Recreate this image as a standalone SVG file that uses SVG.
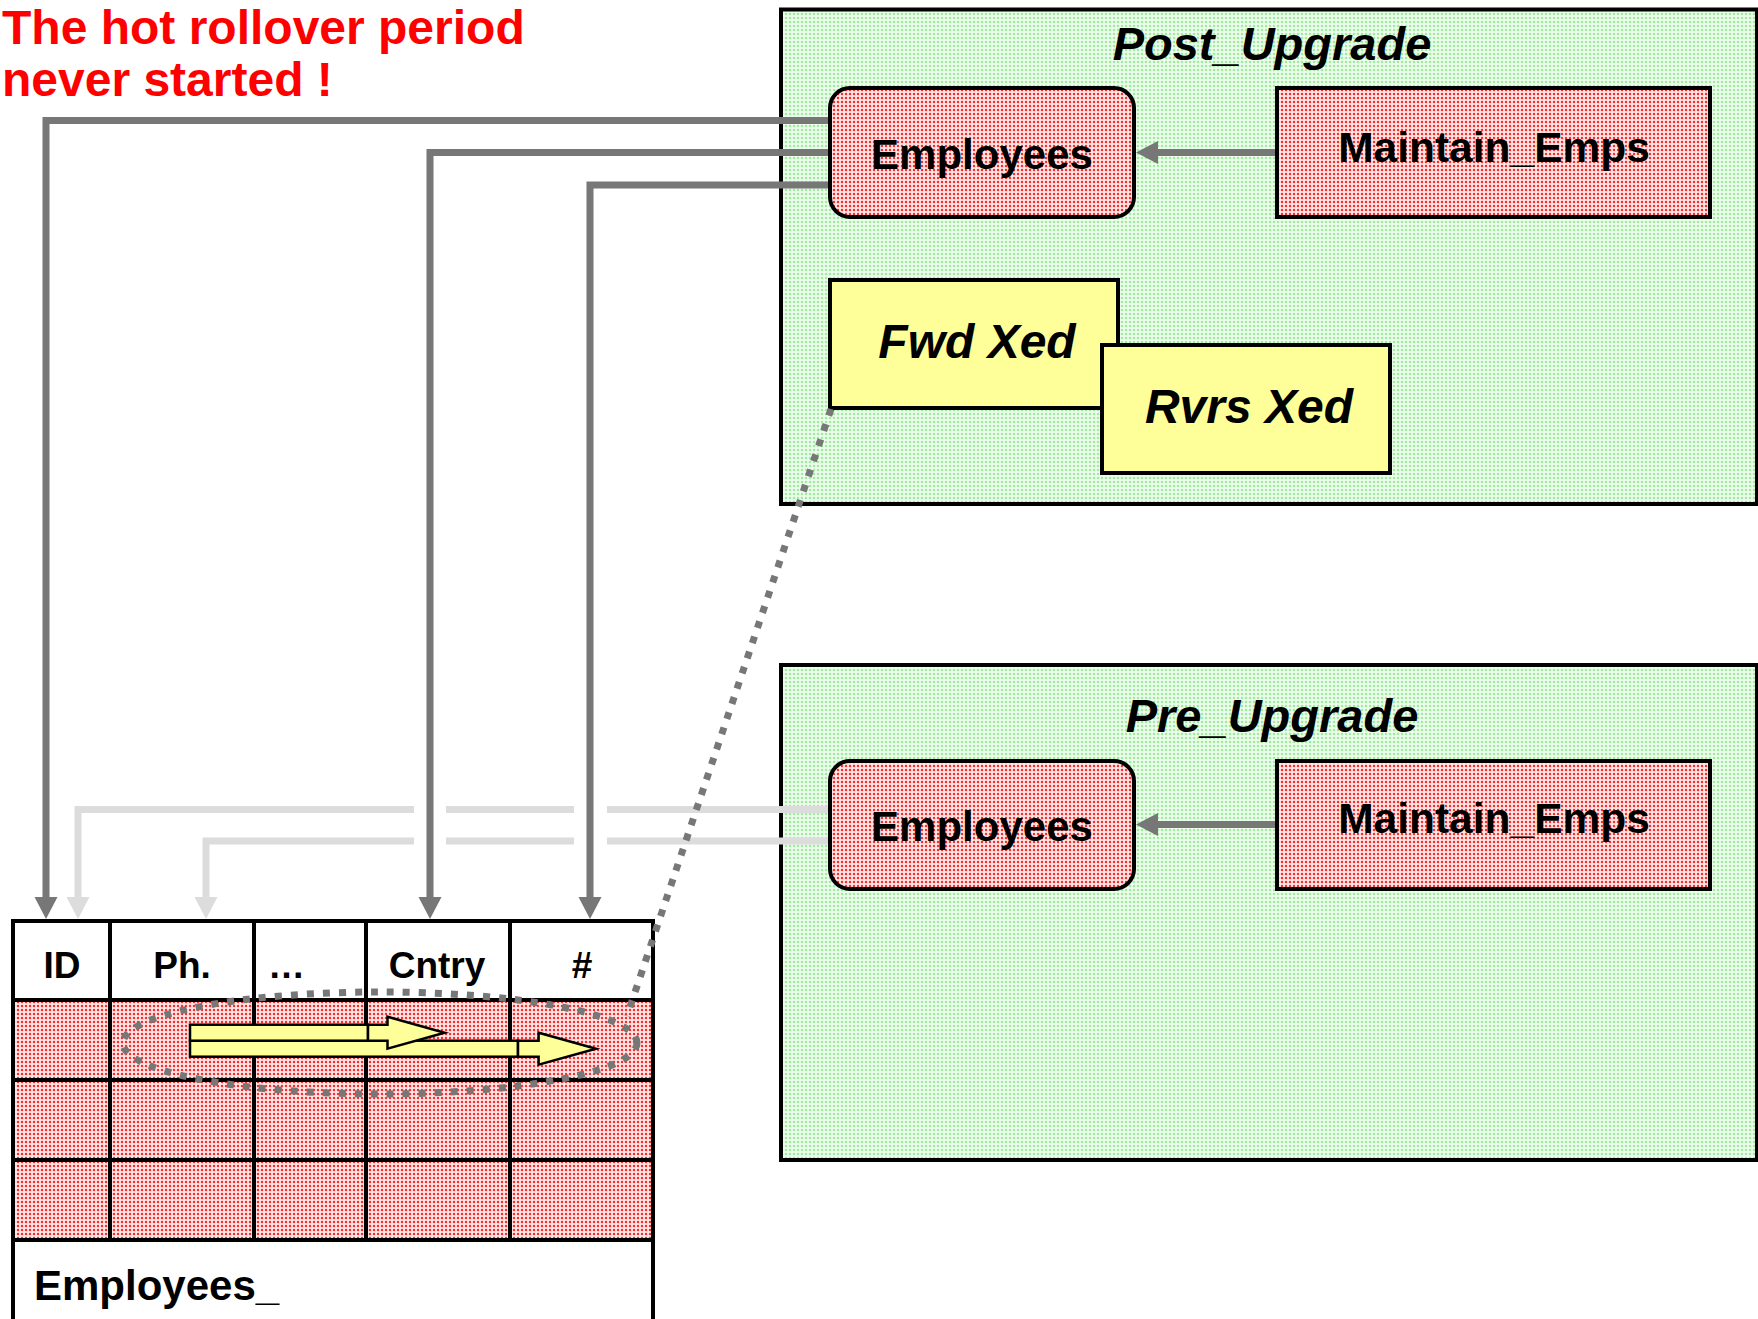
<svg xmlns="http://www.w3.org/2000/svg" width="1758" height="1319" viewBox="0 0 1758 1319">
<defs>
<pattern id="pg" width="4" height="4" patternUnits="userSpaceOnUse"><rect width="4" height="4" fill="#eefdee"/><circle cx="2" cy="2" r="1.3" fill="#9fec9f"/></pattern>
<pattern id="pr" width="4" height="4" patternUnits="userSpaceOnUse"><rect width="4" height="4" fill="#ffe8e8"/><circle cx="2" cy="2" r="1.25" fill="#ff2a2a"/></pattern>
<marker id="ad" markerUnits="userSpaceOnUse" markerWidth="24" markerHeight="24" refX="0" refY="12" orient="auto" overflow="visible"><path d="M0,0.5 L22,12 L0,23.5 Z" fill="#777777"/></marker>
<marker id="al" markerUnits="userSpaceOnUse" markerWidth="24" markerHeight="24" refX="0" refY="12" orient="auto" overflow="visible"><path d="M0,0.5 L22,12 L0,23.5 Z" fill="#dcdcdc"/></marker>
</defs>
<style>
.t{font-family:"Liberation Sans",Arial,sans-serif;font-weight:bold;fill:#000}
.ti{font-family:"Liberation Sans",Arial,sans-serif;font-weight:bold;font-style:italic;fill:#000}
.box{fill:url(#pg);stroke:#000;stroke-width:4}
.red{fill:url(#pr);stroke:#000;stroke-width:4}
.yel{fill:#ffff99;stroke:#000;stroke-width:4}
.cd{fill:none;stroke:#777777;stroke-width:7;marker-end:url(#ad)}
.cl{fill:none;stroke:#dcdcdc;stroke-width:7;marker-end:url(#al)}
.grid{stroke:#000;stroke-width:4;fill:none}
.dot{fill:none;stroke:#777777;stroke-width:7;stroke-dasharray:7 9}
.ya{fill:#ffff99;stroke:#000;stroke-width:2.5;stroke-linejoin:miter}
</style>
<rect width="1758" height="1319" fill="#ffffff"/>

<g id="title">
<text class="t" x="2" y="43.5" font-size="48" style="fill:#ff0000">The hot rollover period</text>
<text class="t" x="2" y="96" font-size="48" style="fill:#ff0000">never started !</text>
</g>

<g id="post_upgrade">
<rect class="box" x="781" y="9.5" width="976" height="494.5"/>
<text class="ti" x="1272" y="60" font-size="47" text-anchor="middle">Post_Upgrade</text>
</g>

<g id="pre_upgrade">
<rect class="box" x="781" y="665" width="976" height="495"/>
<text class="ti" x="1272" y="732" font-size="47" text-anchor="middle">Pre_Upgrade</text>
</g>

<g id="table">
<rect x="13" y="1000" width="640" height="240" fill="url(#pr)"/>
<path class="grid" d="M13,1319 V921 H653 V1319 M13,1000 H653 M13,1080 H653 M13,1160 H653 M13,1240 H653 M110,921 V1240 M254,921 V1240 M366,921 V1240 M510,921 V1240"/>
<text class="t" x="62" y="978" font-size="37" text-anchor="middle">ID</text>
<text class="t" x="182" y="978" font-size="37" text-anchor="middle">Ph.</text>
<text class="t" x="268" y="978" font-size="37">…</text>
<text class="t" x="437" y="978" font-size="37" text-anchor="middle">Cntry</text>
<text class="t" x="582" y="978" font-size="37" text-anchor="middle">#</text>
<text class="t" x="34" y="1300" font-size="42">Employees_</text>
</g>

<g id="connectors">
<path class="cl" d="M830,809.5 H607 M574,809.5 H446 M414,809.5 H78 V897"/>
<path class="cl" d="M830,841 H607 M574,841 H446 M414,841 H206 V897"/>
<path class="cd" d="M830,120.5 H46 V897"/>
<path class="cd" d="M830,152.5 H430 V897"/>
<path class="cd" d="M830,185 H590 V897"/>
<path class="cd" d="M1277,152.5 H1158"/>
<path class="cd" d="M1277,824.5 H1158"/>
</g>

<g id="post_employees">
<rect class="red" x="830" y="88" width="304" height="129" rx="20"/>
<text class="t" x="982" y="169" font-size="42" text-anchor="middle">Employees</text>
</g>
<g id="post_maintain_emps">
<rect class="red" x="1277" y="88" width="433" height="129"/>
<text class="t" x="1494" y="162" font-size="42.5" text-anchor="middle">Maintain_Emps</text>
</g>
<g id="fwd_xed">
<rect class="yel" x="830" y="280" width="288" height="128"/>
<text class="ti" x="977" y="358" font-size="48" text-anchor="middle">Fwd Xed</text>
</g>
<g id="rvrs_xed">
<rect class="yel" x="1102" y="345" width="288" height="128"/>
<text class="ti" x="1249" y="423" font-size="48" text-anchor="middle">Rvrs Xed</text>
</g>
<g id="pre_employees">
<rect class="red" x="830" y="761" width="304" height="128" rx="20"/>
<text class="t" x="982" y="841" font-size="42" text-anchor="middle">Employees</text>
</g>
<g id="pre_maintain_emps">
<rect class="red" x="1277" y="761" width="433" height="128"/>
<text class="t" x="1494" y="833" font-size="42.5" text-anchor="middle">Maintain_Emps</text>
</g>

<g id="row_scan">
<rect class="ya" x="190" y="1040.7" width="328" height="16"/>
<path class="ya" d="M518,1040.7 L538.6,1040.7 L538.6,1032.7 L596,1048.7 L538.6,1064.7 L538.6,1056.7 L518,1056.7 Z"/>
<rect class="ya" x="190" y="1024.7" width="178" height="16"/>
<path class="ya" d="M368,1024.7 L387.5,1024.7 L387.5,1016.7 L444.6,1032.7 L387.5,1048.7 L387.5,1040.7 L368,1040.7 Z"/>
</g>

<g id="callout">
<ellipse class="dot" cx="380" cy="1043" rx="257" ry="51"/>
<path class="dot" d="M831,409 L627,1016"/>
</g>
</svg>
